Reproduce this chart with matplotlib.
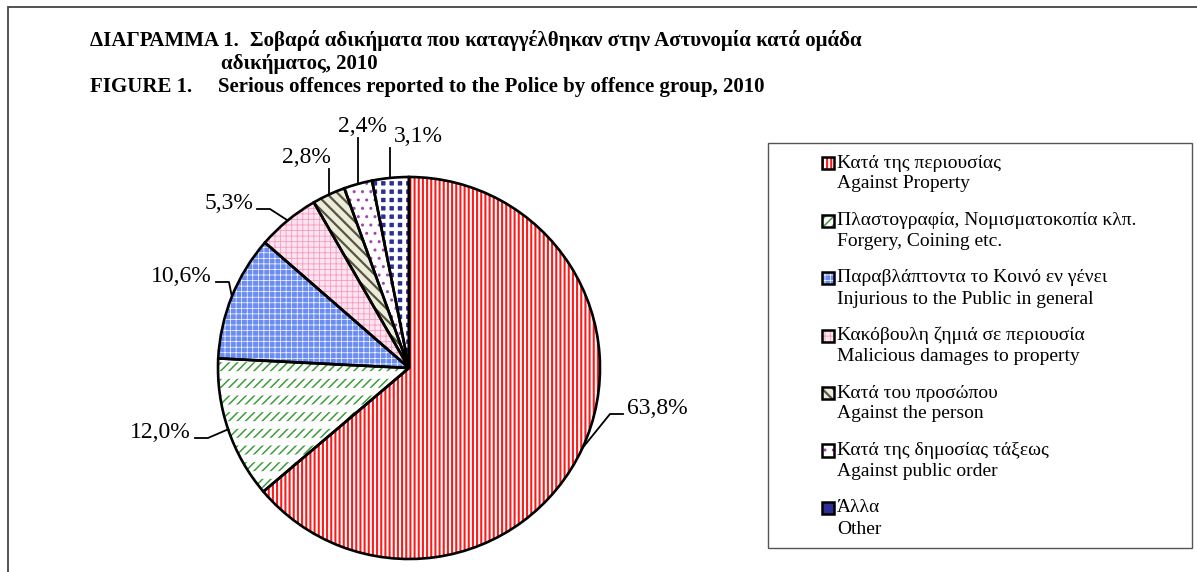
import matplotlib
matplotlib.use('Agg')
import matplotlib.pyplot as plt
from matplotlib.patches import Rectangle
import numpy as np

plt.rcParams['font.family'] = ['Liberation Serif', 'DejaVu Serif']

# data
groups_gr = ['Κατά της περιουσίας', 'Πλαστογραφία, Νομισματοκοπία κλπ.',
             'Παραβλάπτοντα το Κοινό εν γένει', 'Κακόβουλη ζημιά σε περιουσία',
             'Κατά του προσώπου', 'Κατά της δημοσίας τάξεως', 'Άλλα']
groups_en = ['Against Property', 'Forgery, Coining etc.',
             'Injurious to the Public in general', 'Malicious damages to property',
             'Against the person', 'Against public order', 'Other']
shares = [63.8, 12.0, 10.6, 5.3, 2.8, 2.4, 3.1]

title_gr_head = 'ΔΙΑΓΡΑΜΜΑ 1.'
title_gr = 'Σοβαρά αδικήματα που καταγγέλθηκαν στην Αστυνομία κατά ομάδα'
title_gr2 = 'αδικήματος, 2010'
title_en_head = 'FIGURE 1.'
title_en = 'Serious offences reported to the Police by offence group, 2010'

# fill styles: base colour, hatch, hatch colour, hatch width, white overlay
face_cols = ['white', 'white', '#6a8cf3', '#fde4ef', '#ecebdc', 'white', '#2c2f93']
hatches = ['||||', '////', '+++', '+++', '\\\\\\', '..', None]
hatch_cols = ['#ff1a1a', '#3c9c3c', 'white', '#f59cc2', '#56563e', '#a347a8', None]
hatch_lw = [1.5, 1.1, 0.5, 0.6, 1.6, 1.0, 1.0]
over_hatch = [None, '-', None, None, None, None, '++']
over_lw = [0, 5.5, 0, 0, 0, 0, 2.8]

# label layout (pixel anchors in the picture)
lab_px = [(627, 409, 'left'), (191, 433, 'right'), (212, 277, 'right'),
          (253, 204, 'right'), (306, 158, 'center'), (362, 127, 'center'),
          (418, 137, 'center')]

W, H = 1197, 572
CX, CY, R = 409, 368, 191


def px2data(x, y):
    return (x - CX) / R, (CY - y) / R


def fx(x):
    return x / W


def fy(y):
    return 1 - y / H


def hatch_patch(p, hatch, color, lw):
    p.set_facecolor('none')
    p.set_hatch(hatch)
    p.set_edgecolor(color)
    p.set_linewidth(0)
    if hasattr(p, 'set_hatch_linewidth'):
        p.set_hatch_linewidth(lw)
    else:
        p._hatch_linewidth = lw


fig = plt.figure(figsize=(W / 100, H / 100), dpi=100)
ax = fig.add_axes([0, 0, 1, 1])

pie_kw = dict(startangle=90, counterclock=False, radius=1)
base, _ = ax.pie(shares, colors=face_cols, wedgeprops=dict(linewidth=0), **pie_kw)
layer, _ = ax.pie(shares, **pie_kw)
for w, h, c, lw in zip(layer, hatches, hatch_cols, hatch_lw):
    if h is None:
        w.set_visible(False)
    else:
        hatch_patch(w, h, c, lw)
over, _ = ax.pie(shares, **pie_kw)
for w, h, lw in zip(over, over_hatch, over_lw):
    if h is None:
        w.set_visible(False)
    else:
        hatch_patch(w, h, 'white', lw)
edges, _ = ax.pie(shares, wedgeprops=dict(fill=False, edgecolor='black', linewidth=1.9), **pie_kw)

# labels with leader lines
for w, v, (lx, ly, ha) in zip(edges, shares, lab_px):
    mid = np.deg2rad((w.theta1 + w.theta2) / 2)
    ex, ey = np.cos(mid), np.sin(mid)
    tx, ty = px2data(lx, ly)
    txt = f'{v:.1f}%'.replace('.', ',')
    ax.text(tx, ty, txt, ha=ha, va='center', fontsize=17)
    if ha == 'center':
        top = px2data(0, ly + 11)[1]
        ax.plot([ex, ex], [ey, top], color='black', lw=1.3)
    else:
        sgn = 1 if ha == 'left' else -1
        endx = tx - sgn * 4 / R
        elbx = endx - sgn * 13 / R
        liney = ty - 5 / R
        ax.plot([ex, elbx, endx], [ey, liney, liney], color='black', lw=1.3)

ax.set_xlim(-CX / R, (W - CX) / R)
ax.set_ylim(-(H - CY) / R, CY / R)
ax.set_aspect('auto')
ax.axis('off')

# outer frame
fig.add_artist(Rectangle((fx(8), fy(H + 10)), 1.2, fy(7) - fy(H + 10),
                         transform=fig.transFigure, fill=False,
                         edgecolor='#444444', linewidth=1.3))

# titles
tkw = dict(fontsize=15, fontweight='bold', va='baseline')
fig.text(fx(90), fy(46), title_gr_head, **tkw)
fig.text(fx(250), fy(46), title_gr, **tkw)
fig.text(fx(221), fy(69), title_gr2, **tkw)
fig.text(fx(90), fy(92), title_en_head, **tkw)
fig.text(fx(218), fy(92), title_en, **tkw)

# legend
fig.add_artist(Rectangle((fx(768), fy(548)), fx(1192) - fx(768), fy(143) - fy(548),
                         transform=fig.transFigure, fill=False,
                         edgecolor='#555555', linewidth=1.0))
for i in range(len(groups_gr)):
    yg = 163 + 57.5 * i
    rect = dict(xy=(fx(822), fy(yg + 6)), width=fx(834) - fx(822),
                height=fy(yg - 6) - fy(yg + 6), transform=fig.transFigure)
    fig.add_artist(Rectangle(facecolor=face_cols[i], linewidth=0, **rect))
    if hatches[i] is not None:
        m = Rectangle(**rect)
        hatch_patch(m, hatches[i], hatch_cols[i], hatch_lw[i])
        fig.add_artist(m)
    fig.add_artist(Rectangle(fill=False, edgecolor='black', linewidth=1.8, **rect))
    fig.text(fx(837), fy(yg), groups_gr[i], fontsize=14, va='center')
    fig.text(fx(837), fy(yg + 21), groups_en[i], fontsize=14, va='center')

fig.savefig('out.png', dpi=100, facecolor='white')
